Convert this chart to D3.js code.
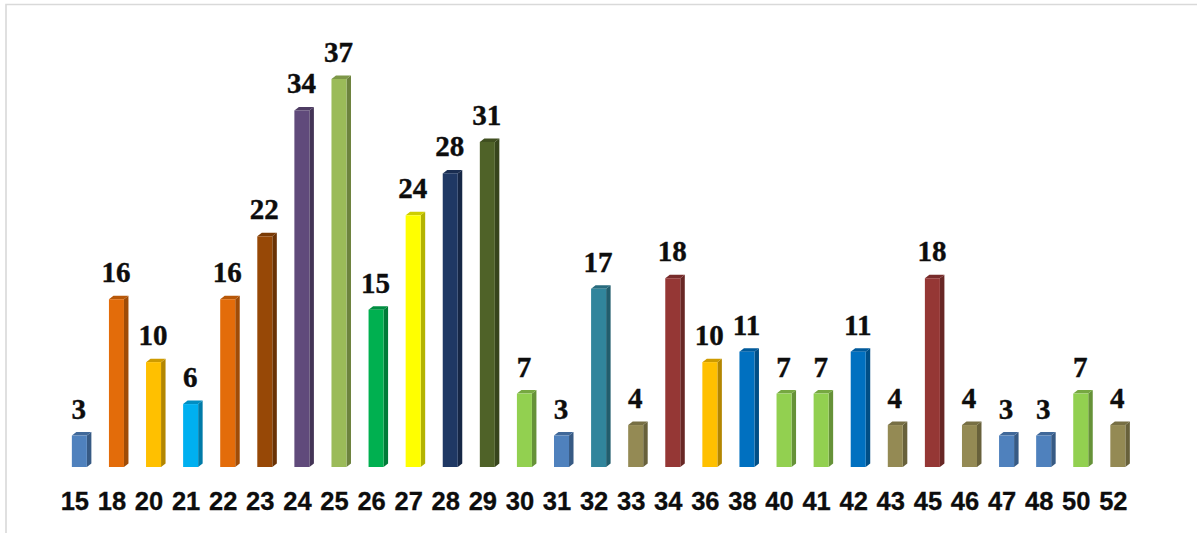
<!DOCTYPE html>
<html><head><meta charset="utf-8">
<style>html,body{margin:0;padding:0;background:#fff}svg{display:block}</style>
<script src="https://cdnjs.cloudflare.com/ajax/libs/d3/7.8.5/d3.min.js"></script>
</head><body><svg id="c" width="1197" height="533"></svg>
<script>
const categories=["15","18","20","21","22","23","24","25","26","27","28","29","30","31","32","33","34","36","38","40","41","42","43","45","46","47","48","50","52"];
const values=[3,16,10,6,16,22,34,37,15,24,28,31,7,3,17,4,18,10,11,7,7,11,4,18,4,3,3,7,4];
const fronts=["#4f81bd","#e36c0a","#ffc000","#00b0f0","#e36c0a","#974806","#604a7b","#9bbb59","#00b050","#ffff00","#1f3864","#4f6228","#92d050","#4f81bd","#31859c","#948a54","#953735","#ffc000","#0070c0","#92d050","#92d050","#0070c0","#948a54","#953735","#948a54","#4f81bd","#4f81bd","#92d050","#948a54"];
const svg=d3.select("#c");
const x=d3.scaleBand().domain(categories).range([61.1,1136.1]).paddingInner(0.595).paddingOuter(0.29);
const y=d3.scaleLinear().domain([0,37]).range([467,79]);
const dx=4.5,dy=3.5;
svg.append("path").attr("d","M6,533V4.5H1197").attr("fill","none").attr("stroke","#d9d9d9").attr("stroke-width",1.6);
const g=svg.selectAll("g.bar").data(categories).join("g").attr("class","bar");
const col=i=>d3.color(fronts[i]);
g.append("path").attr("fill",(d,i)=>col(i).darker(1.0)).attr("d",(d,i)=>{const a=x(d)+x.bandwidth(),t=y(values[i]),b=y(0);return `M${a},${t}L${a+dx},${t-dy}V${b-dy}L${a},${b}Z`;});
g.append("path").attr("fill",(d,i)=>col(i).darker(0.6)).attr("d",(d,i)=>{const a=x(d),w=x.bandwidth(),t=y(values[i]);return `M${a},${t}L${a+dx},${t-dy}H${a+w+dx}L${a+w},${t}Z`;});
g.append("rect").attr("x",d=>x(d)).attr("width",x.bandwidth()).attr("y",(d,i)=>y(values[i])).attr("height",(d,i)=>y(0)-y(values[i])).attr("fill",(d,i)=>fronts[i]);
g.append("text").attr("x",d=>x(d)+x.bandwidth()/2-0.5).attr("y",(d,i)=>y(values[i])-17).attr("text-anchor","middle").attr("font-family","'Liberation Serif'").attr("font-weight","bold").attr("font-size",29).attr("stroke","#0d0d0d").attr("stroke-width",0.4).attr("fill","#0d0d0d").text((d,i)=>values[i]);
const axis=d3.axisBottom(x).tickSize(0).tickPadding(0);
const ag=svg.append("g").attr("transform","translate(-4.5,492)").call(axis);
ag.select(".domain").remove();
ag.selectAll("text").attr("font-family","'Liberation Sans'").attr("font-weight","bold").attr("font-size",25.5).attr("stroke","#0d0d0d").attr("stroke-width",0.3).attr("fill","#0d0d0d").attr("dy","0.71em");
</script></body></html>
